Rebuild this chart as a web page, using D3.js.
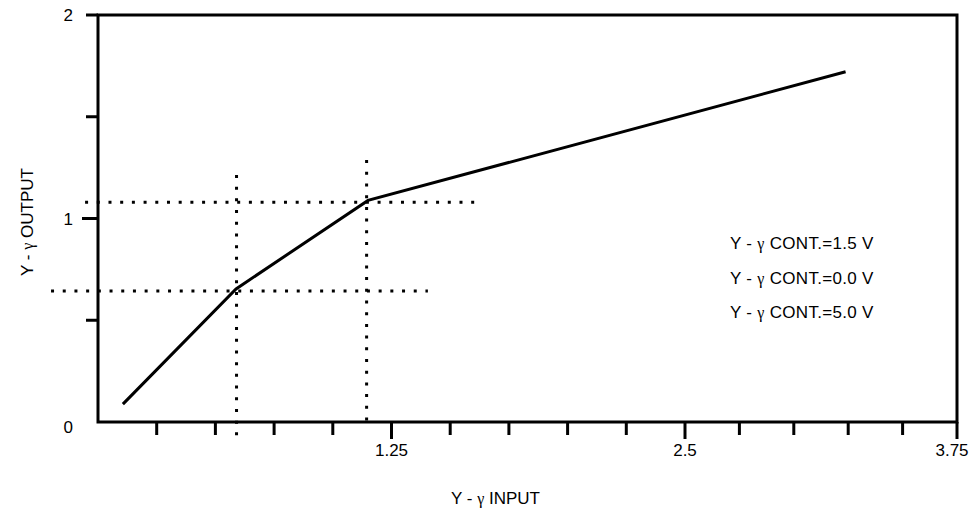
<!DOCTYPE html>
<html>
<head>
<meta charset="utf-8">
<script src="https://cdn.jsdelivr.net/npm/d3@7"></script>
<style>
  body { margin: 0; background: #fff; }
  text { font-family: "Liberation Sans", Arial, sans-serif; fill: #000; }
  .gam { font-family: "Liberation Serif", "Times New Roman", serif; }
</style>
</head>
<body>
<script>

// curve: Y-gamma input vs output
var inputVals = [0.106, 0.588, 1.150, 3.238];
var outputVals = [0.088, 0.654, 1.089, 1.721];

// dotted guide lines (data units)
var guideV = [
	{ x: 0.59, y0: 1.214, y1: -0.069 },
	{ x: 1.144, y0: 1.287, y1: 0.0 }
];
var guideH = [
	{ y: 1.080, x0: -0.055, x1: 1.606 },
	{ y: 0.644, x0: -0.2, x1: 1.405 }
];

var xTicks = [0.25, 0.5, 0.75, 1, 1.25, 1.5, 1.75, 2, 2.25, 2.5, 2.75, 3, 3.25, 3.5, 3.75];
var xTickLabels = ["1.25", "2.5", "3.75"];
var yTicks = [0.5, 1, 1.5, 2];
var yTickLabels = ["0", "1", "2"];

// each label is [before gamma, after gamma]
var legendLabels = [["Y - ", " CONT.=1.5 V"], ["Y - ", " CONT.=0.0 V"], ["Y - ", " CONT.=5.0 V"]];
var xTitle = ["Y - ", " INPUT"];
var yTitle = ["Y - ", " OUTPUT"];

var width = 973, height = 512;

var svg = d3.select("body").append("svg")
	.attr("width", width)
	.attr("height", height);

// x axis isn't even, last segment is squeezed
var x = d3.scaleLinear().domain([0, 2.5, 3.75]).range([98, 685, 957]);
var y = d3.scaleLinear().domain([0, 2]).range([422, 15]);

var isMajorX = function (d) { return xTickLabels.indexOf(String(d)) >= 0; };
var isMajorY = function (d) { return d === 1; };

// writes "Y - γ ..." with the gamma in a serif face
var gammaText = function (sel, parts) {
	sel.append("tspan").text(parts[0]);
	sel.append("tspan").attr("class", "gam").style("font-size", "16px").text("\u03b3");
	sel.append("tspan").text(parts[1]);
};

// frame
svg.append("path")
	.attr("d", "M" + x(0) + "," + y(0) + "V" + y(2) + "H" + x(3.75) + "V" + y(0) + "Z")
	.attr("fill", "none")
	.attr("stroke", "#000")
	.attr("stroke-width", 3);

// x ticks
svg.selectAll(".xt")
	.data(xTicks)
	.enter()
	.append("line")
	.attr("class", "xt")
	.attr("x1", function (d) { return x(d); })
	.attr("x2", function (d) { return x(d); })
	.attr("y1", y(0))
	.attr("y2", function (d) { return y(0) + (isMajorX(d) ? 17 : 13); })
	.attr("stroke", "#000")
	.attr("stroke-width", 3);

// y ticks (2 is the top line poking out)
svg.selectAll(".yt")
	.data(yTicks)
	.enter()
	.append("line")
	.attr("class", "yt")
	.attr("x1", x(0))
	.attr("x2", function (d) { return x(0) - (isMajorY(d) ? 16 : 12); })
	.attr("y1", function (d) { return y(d); })
	.attr("y2", function (d) { return y(d); })
	.attr("stroke", "#000")
	.attr("stroke-width", 3);

svg.selectAll(".xl")
	.data(xTickLabels)
	.enter()
	.append("text")
	.attr("class", "xl")
	.attr("x", function (d) { return x(+d); })
	.attr("dx", function (d, i) { return i === xTickLabels.length - 1 ? -5 : 0; })
	.attr("y", 456)
	.attr("text-anchor", "middle")
	.style("font-size", "17px")
	.text(function (d) { return d; });

svg.selectAll(".yl")
	.data(yTickLabels)
	.enter()
	.append("text")
	.attr("class", "yl")
	.attr("x", 73)
	.attr("y", function (d) { return y(+d) + (d === "0" ? 11 : 6); })
	.attr("text-anchor", "end")
	.style("font-size", "17px")
	.text(function (d) { return d; });

// dotted guides
svg.selectAll(".gv")
	.data(guideV)
	.enter()
	.append("line")
	.attr("x1", function (d) { return x(d.x); })
	.attr("x2", function (d) { return x(d.x); })
	.attr("y1", function (d) { return y(d.y0); })
	.attr("y2", function (d) { return y(d.y1); })
	.attr("stroke", "#000")
	.attr("stroke-width", 3)
	.attr("stroke-dasharray", "3 8.7");

svg.selectAll(".gh")
	.data(guideH)
	.enter()
	.append("line")
	.attr("x1", function (d) { return x(d.x0); })
	.attr("x2", function (d) { return x(d.x1); })
	.attr("y1", function (d) { return y(d.y); })
	.attr("y2", function (d) { return y(d.y); })
	.attr("stroke", "#000")
	.attr("stroke-width", 3)
	.attr("stroke-dasharray", "3 8.7");

// the curve
var line = d3.line()
	.x(function (d) { return x(d[0]); })
	.y(function (d) { return y(d[1]); });

svg.append("path")
	.datum(d3.zip(inputVals, outputVals))
	.attr("d", line)
	.attr("fill", "none")
	.attr("stroke", "#000")
	.attr("stroke-width", 3);

// legend text
svg.selectAll(".lg")
	.data(legendLabels)
	.enter()
	.append("text")
	.attr("class", "lg")
	.attr("x", 730)
	.attr("y", function (d, i) { return 249 + i * 34.5; })
	.style("font-size", "17px")
	.style("letter-spacing", "0.3px")
	.each(function (d) { gammaText(d3.select(this), d); });

// axis titles
svg.append("text")
	.attr("x", 451)
	.attr("y", 504)
	.style("font-size", "17px")
	.call(gammaText, xTitle);

svg.append("text")
	.attr("transform", "translate(33,222) rotate(-90)")
	.attr("text-anchor", "middle")
	.style("font-size", "17px")
	.call(gammaText, yTitle);

</script>
</body>
</html>
